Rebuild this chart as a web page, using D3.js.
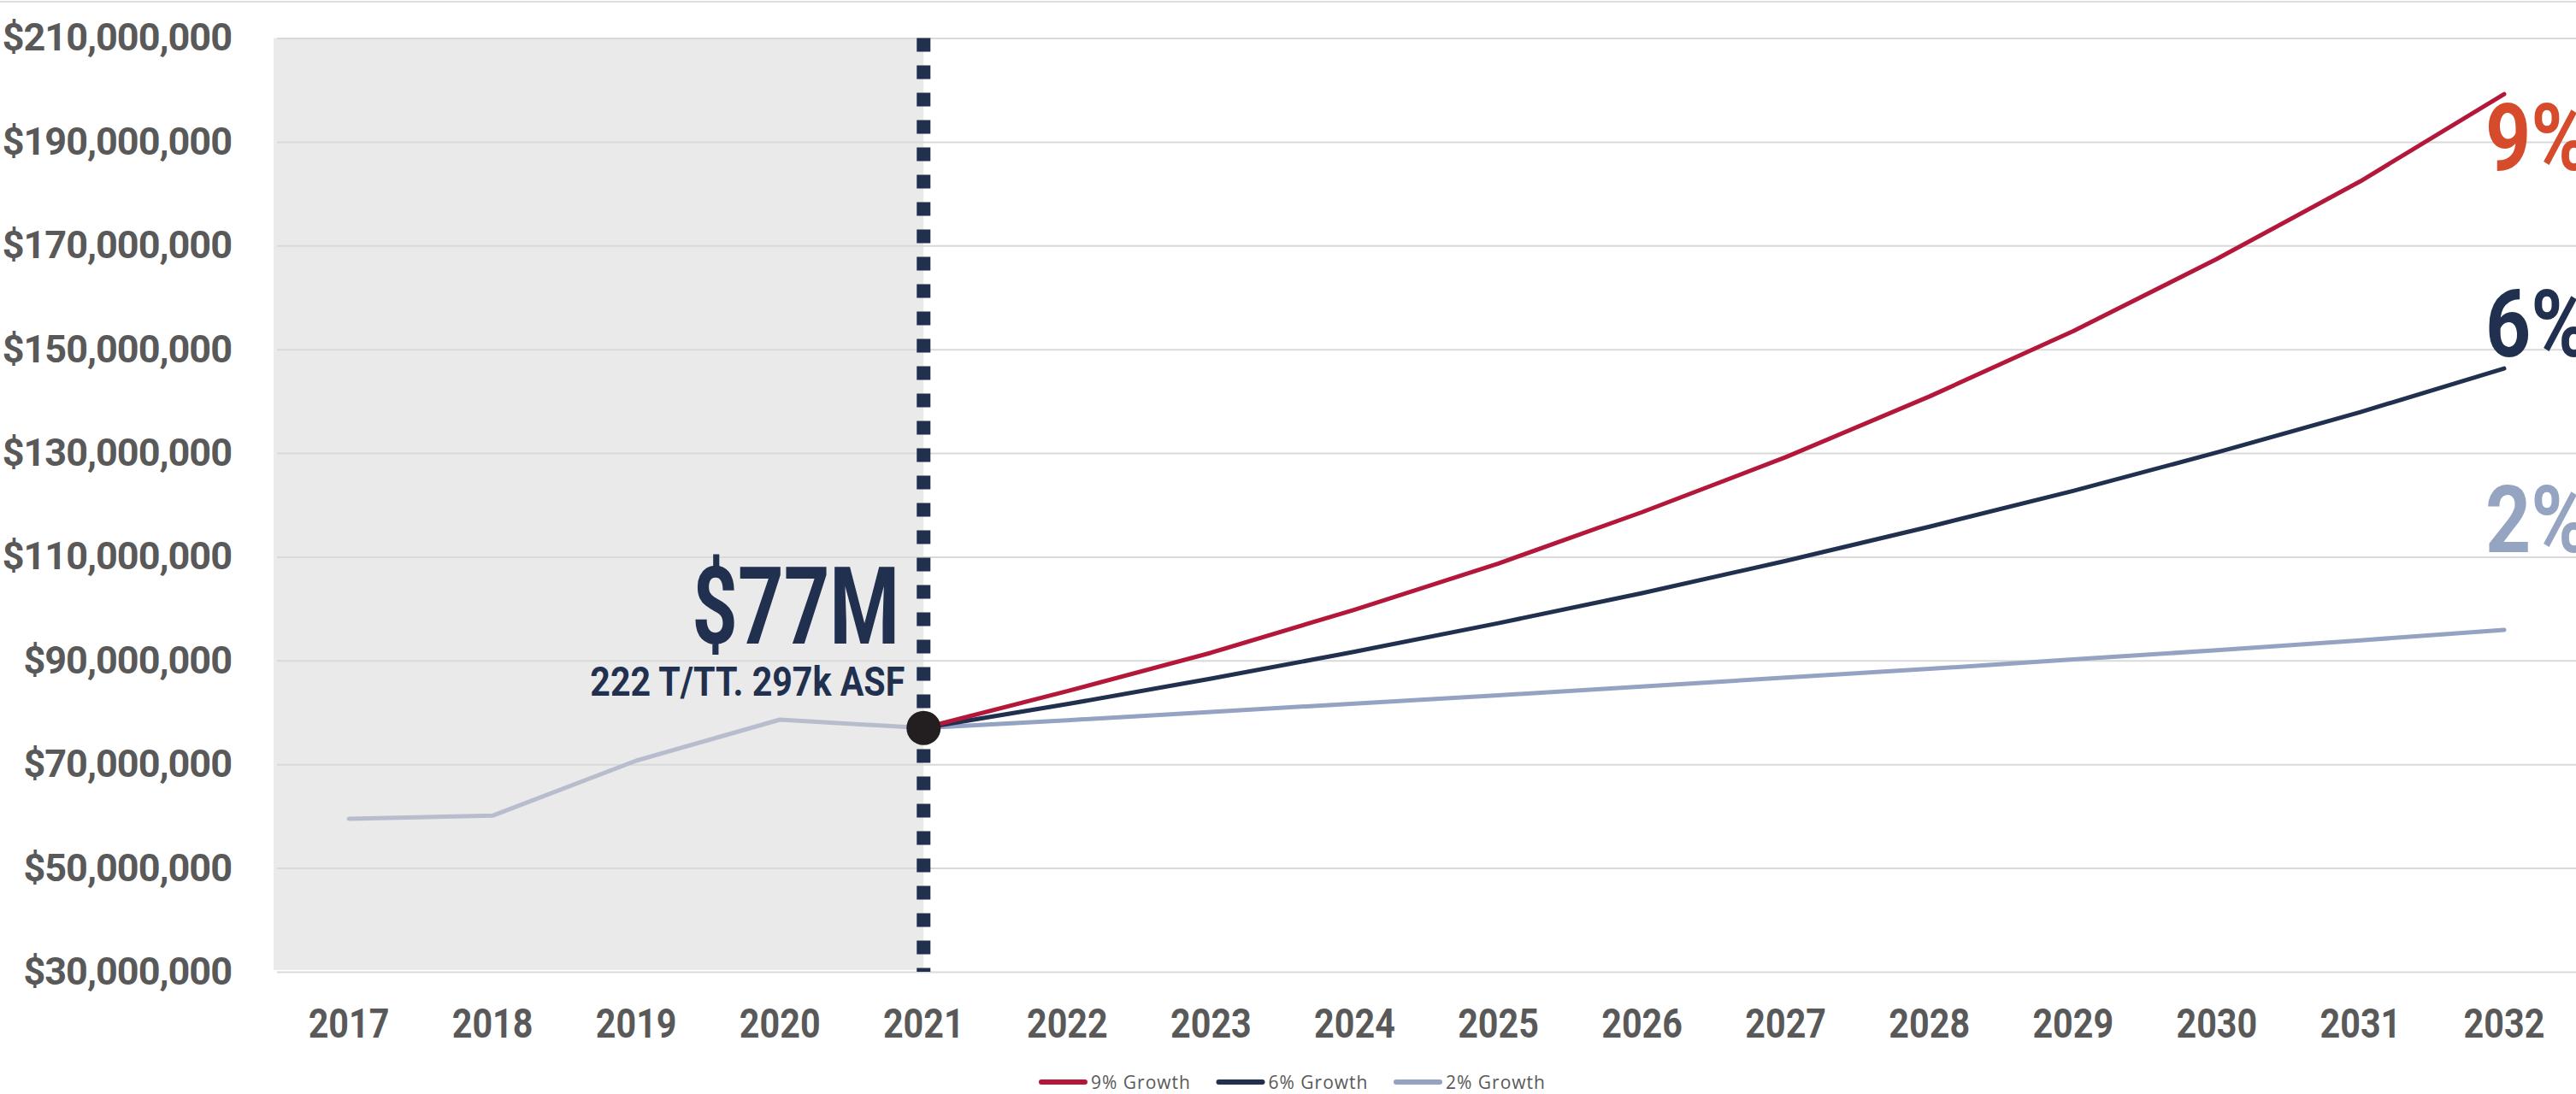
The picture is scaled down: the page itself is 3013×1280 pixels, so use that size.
<!DOCTYPE html>
<html>
<head>
<meta charset="utf-8">
<script src="https://cdn.jsdelivr.net/npm/d3@7"></script>
<style>
body { margin: 0; background: #fff; }
svg { display: block; }
</style>
</head>
<body>
<div id="chart"></div>
<script>
// Values (millions of dollars)
var years = [2017, 2018, 2019, 2020, 2021, 2022, 2023, 2024, 2025, 2026, 2027, 2028, 2029, 2030, 2031, 2032];
var actualYears = [2017, 2018, 2019, 2020, 2021];
var actualValues = [59.5, 60.1, 70.7, 78.6, 77];
var projYears = [2021, 2022, 2023, 2024, 2025, 2026, 2027, 2028, 2029, 2030, 2031, 2032];
var growth9 = [77, 84.1, 91.5, 99.8, 108.7, 118.6, 129.2, 140.9, 153.5, 167.4, 182.4, 199.2];
var growth6 = [77, 81.6, 86.5, 91.7, 97.2, 103.0, 109.2, 115.8, 122.7, 130.1, 137.9, 146.3];
var growth2 = [77, 78.5, 80.1, 81.7, 83.3, 85.0, 86.7, 88.4, 90.2, 92.0, 93.9, 95.9];
var yTicks = [30, 50, 70, 90, 110, 130, 150, 170, 190, 210];
var seriesNames = ["9% Growth", "6% Growth", "2% Growth"];
var endLabels = ["9%", "6%", "2%"];
var todayValue = 77;

// layout (note: "top" is a reserved window global, so use plot* names)
var width = 3013, height = 1280;
var plotLeft = 324, plotTop = 44.5, plotBottom = 1137;

var lineColors = ["#b3173a", "#21304f", "#93a3c1"];
var labelColors = ["#d64b2c", "#21304f", "#94a4c1"];
var textGrey = "#595959";

var svg = d3.select("#chart").append("svg")
    .attr("width", width)
    .attr("height", height)
    .style("font-family", "Roboto, 'Liberation Sans', sans-serif");

var x = d3.scaleBand().domain(years).range([plotLeft, width]).padding(0);
var cx = function(yr) { return x(yr) + x.bandwidth() / 2; };
var y = d3.scaleLinear().domain([30, 210]).range([plotBottom, plotTop]);

// top border
svg.append("line")
    .attr("x1", 0).attr("x2", width)
    .attr("y1", 2).attr("y2", 2)
    .attr("stroke", "#dedede").attr("stroke-width", 2);

// grey "actuals" band
var xToday = cx(2021);
svg.append("rect")
    .attr("x", plotLeft - 4)
    .attr("y", plotTop)
    .attr("width", xToday - plotLeft + 4)
    .attr("height", plotBottom - 2 - plotTop)
    .attr("fill", "#eaeaea");

// y axis + gridlines
var yAxis = svg.append("g")
    .attr("transform", "translate(" + plotLeft + ",0)")
    .call(d3.axisLeft(y)
        .tickValues(yTicks)
        .tickSize(-(width - plotLeft))
        .tickPadding(53)
        .tickFormat(function(d) { return d3.format("$,")(d * 1e6); }));
yAxis.select(".domain").remove();
yAxis.selectAll(".tick line").attr("stroke", "#d9d9d9").attr("stroke-width", 2);
yAxis.selectAll(".tick text")
    .attr("fill", textGrey)
    .style("font-size", "45px")
    .style("font-weight", 700)
    .style("letter-spacing", "-1px")
    .style("font-family", "Roboto, sans-serif");

// x axis labels
var xAxis = svg.append("g")
    .attr("transform", "translate(0," + plotBottom + ")")
    .call(d3.axisBottom(x).tickSize(0).tickPadding(43));
xAxis.select(".domain").remove();
xAxis.selectAll(".tick text")
    .attr("fill", textGrey)
    .attr("transform", "scale(0.86,1)")
    .style("font-size", "48px")
    .style("font-weight", 700)
    .style("font-family", "Roboto, sans-serif");

// dotted "today" line
svg.append("line")
    .attr("x1", xToday).attr("x2", xToday)
    .attr("y1", plotTop).attr("y2", plotBottom)
    .attr("stroke", "#21304f")
    .attr("stroke-width", 16)
    .attr("stroke-dasharray", "16,16");

var line = d3.line()
    .x(function(d) { return cx(d[0]); })
    .y(function(d) { return y(d[1]); });

// history
svg.append("path")
    .datum(d3.zip(actualYears, actualValues))
    .attr("d", line)
    .attr("fill", "none")
    .attr("stroke", "#b7bdcc")
    .attr("stroke-width", 5)
    .attr("stroke-linecap", "round")
    .attr("stroke-linejoin", "round");

// projections, drawn 2% first so 9% sits on top
var series = [growth9, growth6, growth2];
[2, 1, 0].forEach(function(i) {
    svg.append("path")
        .datum(d3.zip(projYears, series[i]))
        .attr("d", line)
        .attr("fill", "none")
        .attr("stroke", lineColors[i])
        .attr("stroke-width", 5)
        .attr("stroke-linecap", "round")
        .attr("stroke-linejoin", "round");
});

// end labels
var lastYear = projYears[projYears.length - 1];
var labelOffsets = [89, -14, -91];
endLabels.forEach(function(t, i) {
    var v = series[i][series[i].length - 1];
    svg.append("text")
        .attr("x", cx(lastYear) - 22)
        .attr("y", y(v) + labelOffsets[i])
        .attr("fill", labelColors[i])
        .attr("textLength", 122)
        .attr("lengthAdjust", "spacingAndGlyphs")
        .style("font-size", "110px")
        .style("font-weight", 700)
        .text(t);
});

// today marker
svg.append("circle")
    .attr("cx", xToday)
    .attr("cy", y(todayValue))
    .attr("r", 20)
    .attr("fill", "#231f20");

svg.append("text")
    .attr("x", xToday - 28)
    .attr("y", 753)
    .attr("text-anchor", "end")
    .attr("fill", "#21304f")
    .attr("textLength", 243)
    .attr("lengthAdjust", "spacingAndGlyphs")
    .style("font-size", "127px")
    .style("font-weight", 700)
    .text("$77M");

svg.append("text")
    .attr("x", xToday - 22)
    .attr("y", 814)
    .attr("text-anchor", "end")
    .attr("fill", "#21304f")
    .attr("textLength", 368)
    .attr("lengthAdjust", "spacingAndGlyphs")
    .style("font-size", "48px")
    .style("font-weight", 700)
    .text("222 T/TT. 297k ASF");

// legend
var legend = svg.append("g").attr("transform", "translate(1215,1266)");
seriesNames.forEach(function(name, i) {
    var g = legend.append("g").attr("transform", "translate(" + (i * 207.5) + ",0)");
    g.append("line")
        .attr("x1", 3).attr("x2", 54)
        .attr("y1", 0).attr("y2", 0)
        .attr("stroke", lineColors[i])
        .attr("stroke-width", 6)
        .attr("stroke-linecap", "round");
    g.append("text")
        .attr("x", 61)
        .attr("y", 7.5)
        .attr("fill", textGrey)
        .style("font-family", "'Open Sans', sans-serif")
        .style("font-size", "21px")
        .style("letter-spacing", "1px")
        .text(name);
});
</script>
</body>
</html>
